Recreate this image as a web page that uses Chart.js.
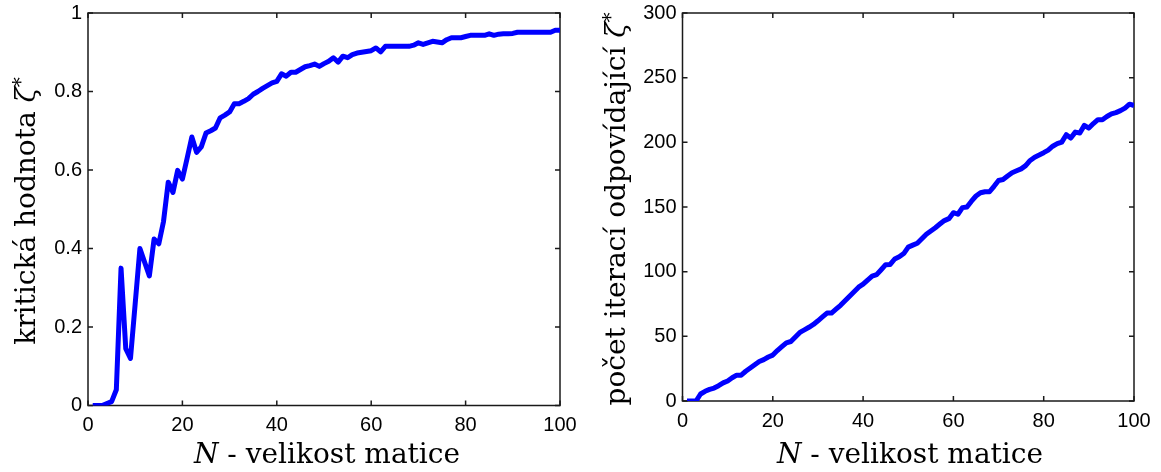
<!DOCTYPE html>
<html lang="cs">
<head>
<meta charset="UTF-8">
<title>Kritická hodnota a počet iterací</title>
<script src="https://cdn.jsdelivr.net/npm/chart.js"></script>
<style>
    body {
        margin: 0;
        padding: 0;
        background: #fff;
    }
    .graf {
        position: absolute;
        top: 0;
    }
    #levy { left: 0; }
    #pravy { left: 580px; }
</style>
</head>
<body>
<div class="graf" id="levy"><canvas id="kritickaGraf" width="580" height="472"></canvas></div>
<div class="graf" id="pravy"><canvas id="iteraceGraf" width="581" height="472"></canvas></div>
<script>
    // velikost matice N = 1..100
    const velikosti = Array.from({ length: 100 }, (_, i) => i + 1);

    // kritická hodnota zeta* pro každé N
    const kritickaHodnota = [
        0, 0, 0, 0.005, 0.01, 0.04, 0.35, 0.145, 0.12, 0.26,
        0.40, 0.365, 0.33, 0.424, 0.412, 0.469, 0.569, 0.543, 0.599, 0.577,
        0.63, 0.684, 0.645, 0.659, 0.694, 0.70, 0.707, 0.733, 0.74, 0.748,
        0.769, 0.769, 0.775, 0.782, 0.793, 0.80, 0.808, 0.815, 0.822, 0.826,
        0.845, 0.839, 0.849, 0.849, 0.856, 0.863, 0.866, 0.87, 0.864, 0.871,
        0.877, 0.886, 0.875, 0.89, 0.886, 0.894, 0.898, 0.90, 0.902, 0.904,
        0.911, 0.901, 0.915, 0.915, 0.915, 0.915, 0.915, 0.915, 0.918, 0.924,
        0.92, 0.924, 0.928, 0.926, 0.924, 0.932, 0.937, 0.937, 0.937, 0.94,
        0.943, 0.943, 0.943, 0.943, 0.947, 0.943, 0.946, 0.947, 0.947, 0.948,
        0.951, 0.951, 0.951, 0.951, 0.951, 0.951, 0.951, 0.951, 0.956, 0.956
    ];

    // počet iterací odpovídající zeta*
    const pocetIteraci = [
        0, 0, 0, 5.4, 7.5, 9, 10, 11.8, 14, 15.5,
        18, 20, 20, 23, 25.5, 28, 30.5, 32, 34, 35.5,
        39, 42, 45, 46, 49.5, 53, 55, 57, 59.2, 62,
        65, 68, 68, 71, 74, 77.5, 81, 84.5, 88, 90.3,
        93.5, 96.5, 97.7, 101.5, 105.4, 105.6, 109.8, 111.5, 114, 119,
        120.5, 122, 125.5, 129, 131.5, 134, 136.8, 139.5, 141, 145.6,
        144.4, 149.5, 150, 154.5, 158.5, 161, 161.8, 161.8, 166, 170.5,
        171.3, 174, 176.5, 178, 179.5, 182, 186, 188.5, 190.2, 192,
        194, 197, 199, 200.2, 205.9, 203.3, 207.9, 207.2, 213.1, 211,
        214.5, 217.5, 217.5, 220, 222, 223, 224.5, 226.5, 229.5, 228.5
    ];

    const xTicky = [0, 20, 40, 60, 80, 100];
    const kritickaTicky = [0, 0.2, 0.4, 0.6, 0.8, 1];
    const iteraceTicky = [0, 50, 100, 150, 200, 250, 300];

    const popisekX = [{ text: 'N', italic: true }, { text: ' - velikost matice' }];
    const popisekKriticka = [{ text: 'kritická hodnota ' }, { text: 'ζ', italic: true }, { text: '*', sup: true }];
    const popisekIterace = [{ text: 'počet iterací odpovídající ' }, { text: 'ζ', italic: true }, { text: '*', sup: true }];

    const SERIF = '"DejaVu Serif", serif';
    const SANS = '"Liberation Sans", Arial, sans-serif';

    // rámeček kolem grafu s tickami dovnitř na všech stranách
    const ramecek = {
        id: 'ramecek',
        beforeDatasetsDraw(chart) {
            const { ctx, chartArea: a, scales: { x, y } } = chart;
            ctx.save();
            ctx.strokeStyle = '#1a1a1a';
            ctx.lineWidth = 1.5;
            ctx.strokeRect(a.left, a.top, a.right - a.left, a.bottom - a.top);
            ctx.beginPath();
            x.ticks.forEach(t => {
                const px = x.getPixelForValue(t.value);
                ctx.moveTo(px, a.bottom); ctx.lineTo(px, a.bottom - 5);
                ctx.moveTo(px, a.top); ctx.lineTo(px, a.top + 5);
            });
            y.ticks.forEach(t => {
                const py = y.getPixelForValue(t.value);
                ctx.moveTo(a.left, py); ctx.lineTo(a.left + 5, py);
                ctx.moveTo(a.right, py); ctx.lineTo(a.right - 5, py);
            });
            ctx.stroke();
            ctx.restore();
        }
    };

    function pismo(cast, velikost) {
        if (cast.sup) return `${Math.round(velikost * 0.7)}px ${SERIF}`;
        return `${cast.italic ? 'italic ' : ''}${velikost}px ${SERIF}`;
    }

    function kresliCasti(ctx, casti, velikost) {
        const sirky = casti.map(c => { ctx.font = pismo(c, velikost); return ctx.measureText(c.text).width; });
        let x = -sirky.reduce((s, w) => s + w, 0) / 2;
        casti.forEach((c, i) => {
            ctx.font = pismo(c, velikost);
            ctx.fillText(c.text, x, c.sup ? -velikost * 0.3 : 0);
            x += sirky[i];
        });
    }

    // popisky os (kurzíva jen pro N a zeta)
    const popiskyOs = {
        id: 'popiskyOs',
        afterDraw(chart, args, opts) {
            const ctx = chart.ctx;
            ctx.save();
            ctx.fillStyle = '#000';
            ctx.textBaseline = 'alphabetic';
            ctx.textAlign = 'left';
            ctx.save();
            ctx.translate(opts.x.cx, opts.x.baseline);
            kresliCasti(ctx, opts.x.casti, opts.velikost);
            ctx.restore();
            ctx.save();
            ctx.translate(opts.y.baseline, opts.y.cy);
            ctx.rotate(-Math.PI / 2);
            kresliCasti(ctx, opts.y.casti, opts.velikost);
            ctx.restore();
            ctx.restore();
        }
    };

    // okraje os řídí jen layout.padding
    function bezOkraju(s) {
        s.paddingTop = 0;
        s.paddingBottom = 0;
        s.paddingLeft = 0;
        s.paddingRight = 0;
    }

    function vytvorGraf(id, hodnoty, yMax, yTicky, sirkaY, vyskaX, padding, popisky) {
        return new Chart(document.getElementById(id), {
            type: 'line',
            data: {
                datasets: [{
                    data: velikosti.map((n, i) => ({ x: n, y: hodnoty[i] })),
                    borderColor: '#0000ff',
                    borderWidth: 5,
                    borderJoinStyle: 'round',
                    pointRadius: 0,
                    tension: 0,
                    fill: false
                }]
            },
            options: {
                responsive: false,
                animation: false,
                layout: { padding: padding },
                plugins: {
                    legend: { display: false },
                    tooltip: { enabled: false },
                    popiskyOs: popisky
                },
                scales: {
                    x: {
                        type: 'linear',
                        min: 0,
                        max: 100,
                        afterBuildTicks: s => { s.ticks = xTicky.map(v => ({ value: v })); },
                        afterFit: s => { s.height = vyskaX; bezOkraju(s); },
                        grid: { display: false, drawTicks: false },
                        border: { display: false },
                        ticks: {
                            padding: 8,
                            color: '#000',
                            callback: v => String(v),
                            font: { family: SANS, size: 20 }
                        }
                    },
                    y: {
                        type: 'linear',
                        min: 0,
                        max: yMax,
                        afterBuildTicks: s => { s.ticks = yTicky.map(v => ({ value: v })); },
                        afterFit: s => { s.width = sirkaY; bezOkraju(s); },
                        grid: { display: false, drawTicks: false },
                        border: { display: false },
                        ticks: {
                            padding: 6,
                            color: '#000',
                            callback: v => String(v),
                            font: { family: SANS, size: 20 }
                        }
                    }
                }
            },
            plugins: [ramecek, popiskyOs]
        });
    }

    vytvorGraf('kritickaGraf', kritickaHodnota, 1, kritickaTicky, 88, 66.5,
        { left: 0, top: 13, right: 20, bottom: 0 },
        {
            velikost: 28,
            x: { casti: popisekX, cx: 327, baseline: 463 },
            y: { casti: popisekKriticka, baseline: 35, cy: 211 }
        });

    vytvorGraf('iteraceGraf', pocetIteraci, 300, iteraceTicky, 102.5, 71,
        { left: 0, top: 13, right: 27, bottom: 0 },
        {
            velikost: 28,
            x: { casti: popisekX, cx: 330, baseline: 463 },
            y: { casti: popisekIterace, baseline: 45, cy: 209 }
        });
</script>
</body>
</html>
